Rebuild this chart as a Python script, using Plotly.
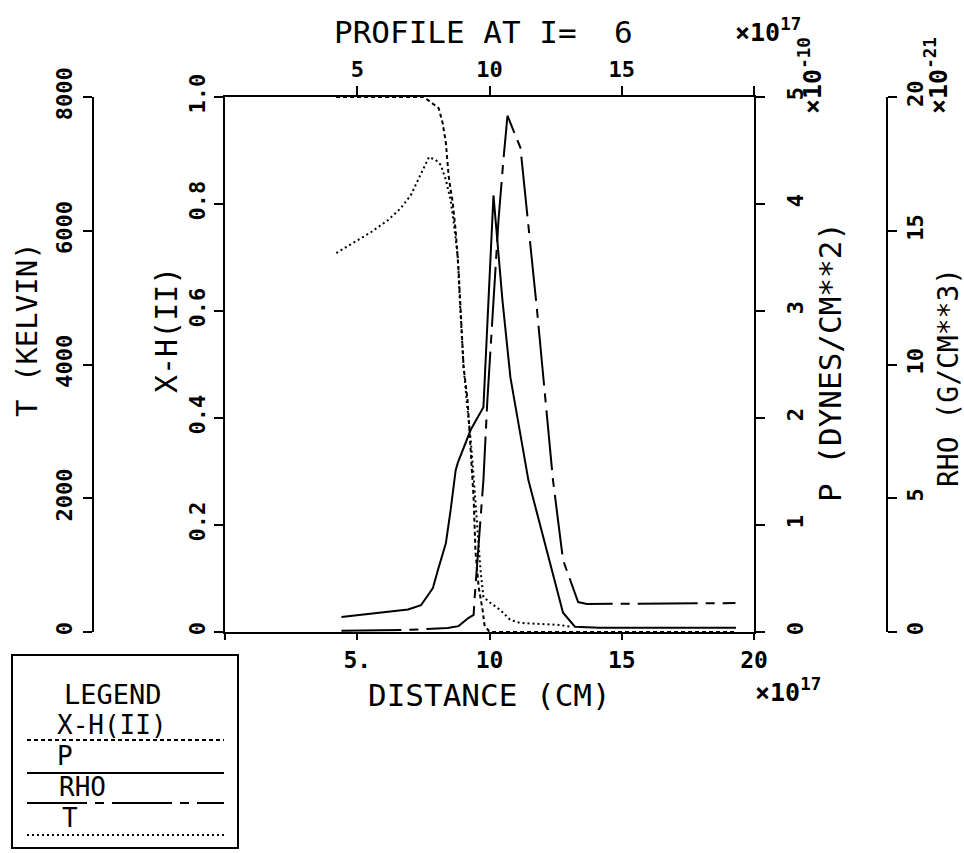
import plotly.graph_objects as go

W, H = 964, 853
FONT = "DejaVu Sans Mono"

# ---------------- data ----------------
# X-H(II) ionisation fraction vs distance (1e17 cm)
xh_x = [4.2, 5.0, 6.0, 7.0, 7.52, 8.08, 8.23, 8.35, 8.46, 8.61, 8.72, 8.83, 8.91,
        8.98, 9.02, 9.17, 9.29, 9.40, 9.47, 9.59, 9.74, 9.81, 10.0, 12.0, 15.0, 19.3]
xh_y = [1.0, 1.0, 1.0, 1.0, 1.0, 0.979, 0.951, 0.914, 0.850, 0.802, 0.751, 0.677, 0.602,
        0.559, 0.495, 0.434, 0.345, 0.25, 0.15, 0.084, 0.041, 0.013, 0.0, 0.0, 0.0, 0.0]

# Pressure P (1e-10 dynes/cm^2)
p_x = [4.40, 5.53, 6.92, 7.41, 7.86, 8.05, 8.35, 8.53, 8.72, 8.80, 9.29, 9.77, 10.15,
       10.49, 10.79, 11.47, 12.37, 12.78, 13.23, 14.17, 19.32]
p_y = [0.14, 0.17, 0.21, 0.25, 0.41, 0.58, 0.83, 1.14, 1.51, 1.58, 1.89, 2.10, 4.08,
       3.10, 2.38, 1.42, 0.58, 0.18, 0.05, 0.04, 0.04]

# Density RHO (1e-21 g/cm^3)
rho_x = [4.40, 7.0, 8.42, 8.83, 9.20, 9.40, 9.44, 9.77, 9.92, 10.15, 10.34, 10.53, 10.68,
         11.17, 11.80, 12.40, 12.78, 13.35, 13.68, 19.30]
rho_y = [0.05, 0.08, 0.15, 0.22, 0.52, 0.64, 1.3, 5.68, 8.67, 12.4, 15.4, 17.7, 19.3,
         18.1, 12.0, 5.68, 2.69, 1.12, 1.05, 1.08]

# Temperature T (Kelvin)
t_x = [4.21, 4.89, 5.53, 6.17, 6.65, 7.03, 7.41, 7.71, 7.97, 8.16, 8.35, 8.53, 8.65,
       8.80, 8.87, 8.95, 9.02, 9.17, 9.29, 9.40, 9.55, 9.66, 9.77, 10.04, 10.41, 10.79,
       11.17, 11.92, 12.67, 13.12]
t_y = [5667, 5832, 5981, 6161, 6340, 6535, 6863, 7103, 7058, 6983, 6759, 6460, 6116,
       5608, 5010, 4450, 3963, 3320, 2871, 2318, 1421, 927, 523, 434, 329, 179,
       135, 120, 105, 75]

x_bottom_ticks = [5, 10, 15, 20]
x_bottom_labels = ["5.", "10", "15", "20"]
x_bottom_unlabelled = [0]
x_top_ticks = [5, 10, 15]
x_top_labels = ["5", "10", "15"]
x_top_unlabelled = [20]
xh_ticks = [0, 0.2, 0.4, 0.6, 0.8, 1.0]
xh_labels = ["0", "0.2", "0.4", "0.6", "0.8", "1.0"]
p_ticks = [0, 1, 2, 3, 4, 5]
t_ticks = [0, 2000, 4000, 6000, 8000]
rho_ticks = [0, 5, 10, 15, 20]

# ---------------- styling ----------------
DASH_XH = "4px,3px"
DASH_RHO = "60px,8px,9px,8px"
DASH_T = "2px,3px"
LW = 2

PX0, PX1 = 225, 754     # plot left/right in pixels
PY0, PY1 = 97, 632      # plot top/bottom in pixels
xdom = [PX0 / W, PX1 / W]
ydom = [1 - PY1 / H, 1 - PY0 / H]

def px(x):
    return x / W

def py(y):
    return 1 - y / H

def tf(size=22, bold=True):
    f = dict(family=FONT, size=size, color="black")
    if bold:
        f["weight"] = "bold"
    return f

common = dict(showline=True, linecolor="black", linewidth=2, ticks="outside",
              tickwidth=2, tickcolor="black", ticklen=9, showgrid=False,
              zeroline=False, fixedrange=True)

fig = go.Figure()
fig.add_trace(go.Scatter(x=xh_x, y=xh_y, mode="lines", xaxis="x", yaxis="y",
                         line=dict(color="black", width=LW, dash=DASH_XH), name="X-H(II)",
                         hoverinfo="skip"))
fig.add_trace(go.Scatter(x=p_x, y=p_y, mode="lines", xaxis="x", yaxis="y2",
                         line=dict(color="black", width=LW), name="P", hoverinfo="skip"))
fig.add_trace(go.Scatter(x=rho_x, y=rho_y, mode="lines", xaxis="x", yaxis="y4",
                         line=dict(color="black", width=LW, dash=DASH_RHO), name="RHO",
                         hoverinfo="skip"))
fig.add_trace(go.Scatter(x=t_x, y=t_y, mode="lines", xaxis="x", yaxis="y3",
                         line=dict(color="black", width=LW, dash=DASH_T), name="T",
                         hoverinfo="skip"))
# carrier so that the top distance axis is drawn (no visible ink)
fig.add_trace(go.Scatter(x=xh_x, y=xh_y, mode="lines", xaxis="x2", yaxis="y",
                         line=dict(color="rgba(0,0,0,0)", width=0), hoverinfo="skip",
                         showlegend=False))

fig.update_layout(
    width=W, height=H,
    margin=dict(l=0, r=0, t=0, b=0, autoexpand=False),
    paper_bgcolor="white", plot_bgcolor="white",
    showlegend=False,
    xaxis=dict(domain=xdom, range=[0, 20], anchor="y", side="bottom",
               tickvals=x_bottom_ticks, ticktext=x_bottom_labels, ticklabelstandoff=0,
               minor=dict(tickvals=x_bottom_unlabelled, ticks="outside", ticklen=6,
                          tickwidth=2, tickcolor="black", showgrid=False),
               tickfont=tf(23), **{**common, "ticklen": 6}),
    xaxis2=dict(domain=xdom, range=[0, 20], anchor="y", side="top", overlaying="x",
                tickvals=x_top_ticks, ticktext=x_top_labels, ticklabelstandoff=0,
                minor=dict(tickvals=x_top_unlabelled, ticks="outside", ticklen=9,
                           tickwidth=2, tickcolor="black", showgrid=False),
                tickfont=tf(22), **common),
    yaxis=dict(domain=ydom, range=[0, 1], anchor="x", side="left",
               tickvals=xh_ticks, ticktext=xh_labels, tickangle=-90,
               ticklabelstandoff=0, tickfont=tf(22), **common),
    yaxis2=dict(domain=ydom, range=[0, 5], anchor="x", side="right", overlaying="y",
                tickvals=p_ticks, tickangle=-90, ticklabelstandoff=12,
                tickfont=tf(22), **common),
    yaxis3=dict(domain=ydom, range=[0, 8000], anchor="free", position=93 / W, side="left",
                overlaying="y", tickvals=t_ticks, tickangle=-90, ticklabelstandoff=2,
                tickfont=tf(22), **common),
    yaxis4=dict(domain=ydom, range=[0, 20], anchor="free", position=887 / W, side="right",
                overlaying="y", tickvals=rho_ticks, tickangle=-90, ticklabelstandoff=0,
                tickfont=tf(22), **common),
)

ann = []

def text(t, x, y, size=28, angle=0, xanchor="center", yanchor="middle", bold=False):
    ann.append(dict(text=t, x=px(x), y=py(y), xref="paper", yref="paper",
                    showarrow=False, textangle=angle, xanchor=xanchor, yanchor=yanchor,
                    font=tf(size, bold)))

text("PROFILE AT I=  6", 483, 32, size=31)
text("×10<sup>17</sup>", 768, 30, size=25, bold=True)
text("DISTANCE (CM)", 489, 695, size=31)
text("×10<sup>17</sup>", 788, 690, size=25, bold=True)
text("T (KELVIN)", 27, 330, size=29, angle=-90)
text("X-H(II)", 166, 330, size=30, angle=-90)
text("P (DYNES/CM**2)", 830, 362, size=31, angle=-90)
text("×10<sup>-10</sup>", 810, 76, size=25, angle=-90, bold=True)
text("RHO (G/CM**3)", 948, 378, size=28, angle=-90)
text("×10<sup>-21</sup>", 936, 76, size=25, angle=-90, bold=True)

# legend block
text("LEGEND", 62, 694, size=27, xanchor="left")
text("X-H(II)", 55, 725, size=26, xanchor="left")
text("P", 55, 756, size=26, xanchor="left")
text("RHO", 57, 787, size=26, xanchor="left")
text("T", 60, 818, size=26, xanchor="left")
fig.update_layout(annotations=ann)

shapes = [dict(type="rect", xref="paper", yref="paper", x0=px(12), x1=px(238),
               y0=py(848), y1=py(655), line=dict(color="black", width=2))]
for yy, dash in [(740, DASH_XH), (773, "solid"), (803, DASH_RHO), (835, DASH_T)]:
    shapes.append(dict(type="line", xref="paper", yref="paper", x0=px(27), x1=px(224),
                       y0=py(yy), y1=py(yy), line=dict(color="black", width=2, dash=dash)))
fig.update_layout(shapes=shapes)

fig.write_html("out.html")
